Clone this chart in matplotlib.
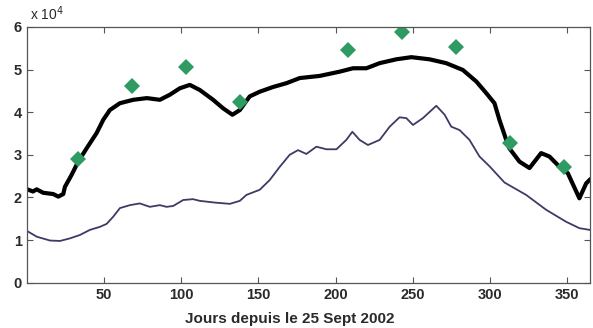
from matplotlib import pyplot as plt
import numpy as np

plt.rcParams['font.family'] = ['Liberation Sans', 'DejaVu Sans']

# black curve (x 10^4)
jours_noir = [0.2, 3.9, 6.3, 10.5, 17.0, 20.3, 23.5, 24.6, 28.9, 33.2, 38.6, 45.1, 49.4,
              53.7, 60.2, 68.8, 77.7, 86.1, 92.6, 99.0, 105.5, 112.0, 120.6, 127.1, 133.1,
              137.9, 144.3, 150.8, 159.4, 168.1, 176.7, 189.6, 202.6, 211.2, 219.9, 228.5,
              239.3, 249.0, 260.8, 271.6, 282.4, 291.1, 297.5, 302.9, 306.1, 310.5, 312.6,
              319.1, 325.6, 333.1, 338.5, 345.0, 350.4, 357.9, 362.3, 364.5]
val_noir = [2.19, 2.14, 2.19, 2.11, 2.08, 2.02, 2.08, 2.25, 2.53, 2.84, 3.15, 3.51, 3.82,
            4.05, 4.21, 4.29, 4.33, 4.29, 4.41, 4.56, 4.64, 4.52, 4.29, 4.09, 3.94,
            4.05, 4.37, 4.48, 4.59, 4.68, 4.80, 4.85, 4.95, 5.03, 5.03, 5.15,
            5.24, 5.29, 5.24, 5.15, 4.99, 4.72, 4.45, 4.21, 3.82, 3.35, 3.15,
            2.84, 2.69, 3.04, 2.96, 2.72, 2.57, 1.98, 2.33, 2.41]

# thin blue-grey curve
jours_bleu = [0.2, 6.3, 14.9, 21.4, 27.8, 34.3, 40.8, 47.2, 51.6, 55.9, 60.2, 66.7, 73.1,
              79.6, 86.1, 90.4, 94.7, 101.2, 107.6, 112.0, 121.7, 131.4, 137.9, 142.2,
              150.8, 157.3, 163.8, 170.2, 175.6, 181.0, 187.5, 194.0, 200.5, 206.9, 210.8,
              215.5, 220.9, 228.5, 235.0, 241.4, 245.8, 250.1, 256.5, 265.2, 270.6, 274.9,
              280.3, 286.7, 293.2, 299.7, 309.4, 323.4, 336.4, 349.3, 357.9, 364.5]
val_bleu = [1.21, 1.08, 0.99, 0.98, 1.04, 1.12, 1.24, 1.31, 1.38, 1.55, 1.75, 1.82, 1.86,
            1.78, 1.82, 1.78, 1.80, 1.94, 1.96, 1.92, 1.88, 1.85, 1.92, 2.06,
            2.18, 2.41, 2.72, 3.00, 3.11, 3.02, 3.19, 3.13, 3.13, 3.35, 3.54,
            3.35, 3.23, 3.35, 3.66, 3.88, 3.86, 3.70, 3.86, 4.15, 3.94, 3.66,
            3.58, 3.35, 2.96, 2.73, 2.35, 2.06, 1.71, 1.43, 1.28, 1.24]

# green diamonds
jours_pts = [33, 68, 103, 138, 208, 243, 278, 313, 348]
val_pts = [2.90, 4.62, 5.05, 4.23, 5.46, 5.87, 5.53, 3.27, 2.72]

xticks = [50, 100, 150, 200, 250, 300, 350]
yticks = [0, 1, 2, 3, 4, 5, 6]

fig = plt.figure(figsize=(5.93, 3.28), dpi=100)
ax = fig.add_axes([0.0455, 0.138, 0.95, 0.78])

ax.plot(jours_bleu, val_bleu, '-', color='#3b3b66', linewidth=1.3)
ax.plot(jours_noir, val_noir, '-', color='black', linewidth=3.0)
ax.plot(jours_pts, val_pts, 'D', color='#2e9b62', markersize=8, markeredgewidth=0)

ax.set_xlim(0, 365)
ax.set_ylim(0, 6)
ax.set_xticks(xticks)
ax.set_yticks(yticks)
ax.tick_params(direction='in', top=True, right=True, length=4, width=0.8,
               colors='#555555', labelcolor='#2a2a2a', labelsize=10.5)
for lab in ax.get_xticklabels() + ax.get_yticklabels():
    lab.set_fontweight('bold')
for s in ax.spines.values():
    s.set_color('#555555')
    s.set_linewidth(0.9)

ax.set_xlabel('Jours depuis le 25 Sept 2002', fontsize=11, fontweight='bold',
              color='#2a2a2a', labelpad=1)
ax.xaxis.set_label_coords(0.467, -0.115)
ax.text(0.005, 1.015, r'x 10$^{4}$', transform=ax.transAxes, fontsize=10,
        color='#2a2a2a', ha='left', va='bottom')

plt.savefig('out.png', dpi=100)
